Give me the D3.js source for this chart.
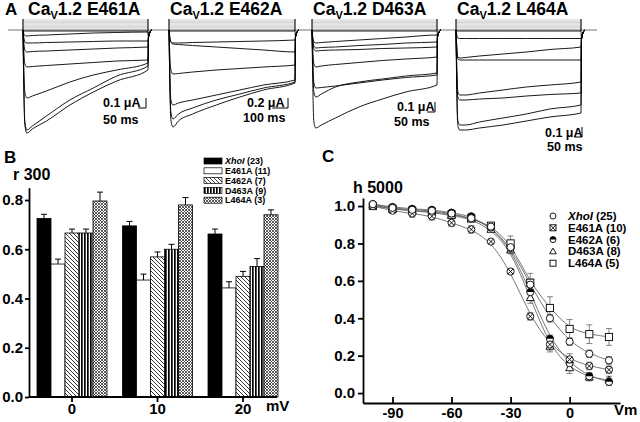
<!DOCTYPE html>
<html><head><meta charset="utf-8">
<script src="https://cdn.jsdelivr.net/npm/d3@7"></script>
<style>
body{margin:0;background:#fff}
svg{display:block;font-family:Arial,"Liberation Sans",sans-serif;font-weight:bold}
</style>
</head><body>
<svg id="c" width="640" height="422"></svg>
<script>
// ================= DATA =================
// ---- Panel A: current traces ----
const A_TITLES = ["E461A", "E462A", "D463A", "L464A"];
const A_TIME_MS = [0, 4, 12, 25, 60, 150, 300, 450, 600, 800, 803, 810, 825];
const A_PROTOCOL_MV = [-40, -30, -20, -10, 0, 10, 20, 30];
const A_SCALE_UA = [0.1, 0.2, 0.1, 0.1];
const A_SCALE_MS = [50, 100, 50, 50];
const A_SCALE_UA_LABELS = ["0.1 μA", "0.2 μA", "0.1 μA", "0.1 μA"];
const A_SCALE_MS_LABELS = ["50 ms", "100 ms", "50 ms", "50 ms"];
const A_TAIL_E461A = [-0.07, -0.03, 0];
const A_TAIL_E462A = [-0.14, -0.06, 0];
const A_TAIL_D463A = [-0.07, -0.03, 0];
const A_TAIL_L464A = [-0.09, -0.04, 0];
const A_TRACES_E461A = [
  [0, -0.005, -0.01, -0.01, -0.01, -0.01, -0.01, -0.01, -0.01, -0.01],
  [0, -0.03, -0.055, -0.06, -0.055, -0.05, -0.04, -0.03, -0.025, -0.02],
  [0, -0.06, -0.12, -0.13, -0.13, -0.125, -0.12, -0.115, -0.11, -0.11],
  [0, -0.10, -0.20, -0.22, -0.215, -0.21, -0.20, -0.19, -0.18, -0.17],
  [0, -0.17, -0.34, -0.37, -0.365, -0.355, -0.34, -0.325, -0.31, -0.30],
  [0, -0.30, -0.62, -0.68, -0.66, -0.61, -0.52, -0.45, -0.40, -0.33],
  [0, -0.45, -0.92, -1.00, -0.96, -0.86, -0.70, -0.58, -0.46, -0.36],
  [0, -0.47, -0.95, -1.03, -0.99, -0.91, -0.75, -0.62, -0.51, -0.40]
];
const A_TRACES_E462A = [
  [0, -0.01, -0.02, -0.02, -0.02, -0.02, -0.02, -0.02, -0.02, -0.02],
  [0, -0.12, -0.24, -0.26, -0.26, -0.25, -0.24, -0.23, -0.22, -0.20],
  [0, -0.12, -0.24, -0.28, -0.29, -0.31, -0.34, -0.37, -0.40, -0.44],
  [0, -0.40, -0.80, -0.88, -0.87, -0.84, -0.80, -0.77, -0.74, -0.70],
  [0, -0.68, -1.40, -1.50, -1.46, -1.40, -1.30, -1.20, -1.10, -1.00],
  [0, -0.80, -1.64, -1.78, -1.68, -1.56, -1.40, -1.28, -1.16, -1.04],
  [0, -0.88, -1.80, -1.94, -1.82, -1.68, -1.50, -1.34, -1.20, -1.06]
];
const A_TRACES_D463A = [
  [0, -0.005, -0.01, -0.01, -0.01, -0.01, -0.01, -0.01, -0.01, -0.01],
  [0, -0.06, -0.12, -0.13, -0.125, -0.115, -0.10, -0.085, -0.07, -0.05],
  [0, -0.08, -0.16, -0.18, -0.175, -0.17, -0.155, -0.145, -0.13, -0.12],
  [0, -0.10, -0.19, -0.21, -0.205, -0.20, -0.195, -0.185, -0.18, -0.17],
  [0, -0.17, -0.34, -0.37, -0.36, -0.345, -0.325, -0.305, -0.29, -0.27],
  [0, -0.26, -0.53, -0.58, -0.575, -0.56, -0.53, -0.50, -0.475, -0.45],
  [0, -0.30, -0.62, -0.67, -0.64, -0.57, -0.52, -0.49, -0.46, -0.43],
  [0, -0.45, -0.92, -0.98, -0.95, -0.88, -0.77, -0.69, -0.62, -0.55]
];
const A_TRACES_L464A = [
  [0, -0.005, -0.01, -0.01, -0.01, -0.01, -0.01, -0.01, -0.01, -0.01],
  [0, -0.04, -0.08, -0.085, -0.085, -0.085, -0.085, -0.085, -0.085, -0.085],
  [0, -0.14, -0.27, -0.28, -0.275, -0.26, -0.24, -0.22, -0.195, -0.17],
  [0, -0.15, -0.29, -0.30, -0.30, -0.30, -0.30, -0.30, -0.30, -0.30],
  [0, -0.32, -0.62, -0.65, -0.65, -0.63, -0.60, -0.57, -0.55, -0.52],
  [0, -0.35, -0.67, -0.70, -0.70, -0.69, -0.68, -0.66, -0.645, -0.63],
  [0, -0.47, -0.91, -0.95, -0.95, -0.92, -0.88, -0.84, -0.79, -0.75],
  [0, -0.50, -0.96, -1.00, -1.00, -0.98, -0.95, -0.91, -0.87, -0.83]
];

// ---- Panel B: r300 bars ----
const B_VOLTAGES = ["0", "10", "20"];
const B_NAMES = ["XhoI", "E461A", "E462A", "D463A", "L464A"];
const B_N = [23, 11, 7, 9, 3];
const B_XHOI = [0.725, 0.695, 0.662];
const B_E461A = [0.540, 0.475, 0.443];
const B_E462A = [0.666, 0.569, 0.490];
const B_D463A = [0.666, 0.600, 0.530];
const B_L464A = [0.796, 0.780, 0.740];
const B_XHOI_ERR = [0.017, 0.018, 0.020];
const B_E461A_ERR = [0.020, 0.024, 0.025];
const B_E462A_ERR = [0.016, 0.020, 0.020];
const B_D463A_ERR = [0.016, 0.020, 0.032];
const B_L464A_ERR = [0.036, 0.030, 0.020];
const B_Y_TICKS = [0.0, 0.2, 0.4, 0.6, 0.8];

// ---- Panel C: h5000 ----
const C_VM = [-100, -90, -80, -70, -60, -50, -40, -30, -20, -10, 0, 10, 20];
const C_NAMES = ["XhoI", "E461A", "E462A", "D463A", "L464A"];
const C_N = [25, 10, 6, 8, 5];
const C_XHOI  = [1.010, 0.990, 0.980, 0.975, 0.960, 0.935, 0.890, 0.780, 0.580, 0.400, 0.275, 0.210, 0.175];
const C_E461A = [1.000, 0.975, 0.960, 0.945, 0.910, 0.875, 0.810, 0.650, 0.410, 0.260, 0.180, 0.145, 0.125];
const C_E462A = [1.010, 0.995, 0.985, 0.980, 0.965, 0.945, 0.885, 0.775, 0.540, 0.290, 0.160, 0.090, 0.060];
const C_D463A = [1.005, 0.985, 0.975, 0.965, 0.950, 0.930, 0.875, 0.765, 0.510, 0.250, 0.135, 0.085, 0.070];
const C_L464A = [1.000, 0.985, 0.975, 0.970, 0.955, 0.935, 0.895, 0.800, 0.590, 0.455, 0.343, 0.315, 0.300];
const C_XHOI_ERR  = [0.01, 0.01, 0.01, 0.01, 0.01, 0.01, 0.01, 0.02, 0.03, 0.02, 0.02, 0.02, 0.02];
const C_E461A_ERR = [0.01, 0.01, 0.02, 0.02, 0.02, 0.02, 0.01, 0.01, 0.02, 0.03, 0.03, 0.02, 0.02];
const C_E462A_ERR = [0.01, 0.01, 0.01, 0.01, 0.01, 0.01, 0.01, 0.02, 0.03, 0.02, 0.02, 0.02, 0.02];
const C_D463A_ERR = [0.01, 0.01, 0.01, 0.01, 0.01, 0.01, 0.01, 0.02, 0.03, 0.03, 0.03, 0.02, 0.02];
const C_L464A_ERR = [0.01, 0.01, 0.01, 0.01, 0.01, 0.01, 0.01, 0.04, 0.05, 0.06, 0.05, 0.05, 0.045];
const C_X_TICKS = [-90, -60, -30, 0];
const C_Y_TICKS = [0.0, 0.2, 0.4, 0.6, 0.8, 1.0];

// ================= DRAWING =================
const FONT = "Arial, 'Liberation Sans', sans-serif";
const svg = d3.select("#c");
svg.append("rect").attr("width", 640).attr("height", 422).attr("fill", "#fff");
const defs = svg.append("defs");
function pattern(id, w, h, draw) {
  const p = defs.append("pattern").attr("id", id).attr("patternUnits", "userSpaceOnUse")
    .attr("width", w).attr("height", h);
  p.append("rect").attr("width", w).attr("height", h).attr("fill", "#fff");
  draw(p);
}
pattern("hatch", 4, 4, p => p.append("path").attr("d", "M-1,-1L5,5M-1,3L1,5M3,-1L5,1")
  .attr("stroke", "#222").attr("stroke-width", 0.9));
pattern("vstripe", 3, 3, p => p.append("rect").attr("width", 1.7).attr("height", 3).attr("fill", "#000"));
pattern("cross", 3, 3, p => p.append("path").attr("d", "M0,0L3,3M3,0L0,3")
  .attr("stroke", "#333").attr("stroke-width", 0.8));

// ---------- Panel A ----------
const A_TRACES = [A_TRACES_E461A, A_TRACES_E462A, A_TRACES_D463A, A_TRACES_L464A];
const A_TAILS = [A_TAIL_E461A, A_TAIL_E462A, A_TAIL_D463A, A_TAIL_L464A];
const A_LAYOUT = [
  {x0: 23, x1: 148, px: 100, title: 28, bar: [146, 108], ua: [103, 107], ms: [103, 124]},
  {x0: 169, x1: 295, px: 50, title: 170, bar: [288, 108], ua: [247, 107], ms: [243, 122]},
  {x0: 312, x1: 437, px: 100, title: 313, bar: [435, 112], ua: [397, 111], ms: [394, 126]},
  {x0: 456, x1: 581, px: 100, title: 457, bar: [582, 137], ua: [545, 137], ms: [547, 151]}
];
const BASE_Y = 30;

svg.append("text").attr("x", 5).attr("y", 15).attr("font-size", 17).text("A");
svg.append("line").attr("x1", 8).attr("x2", 597).attr("y1", BASE_Y).attr("y2", BASE_Y)
  .attr("stroke", "#777").attr("stroke-width", 1);

A_TITLES.forEach((name, i) => {
  const L = A_LAYOUT[i];
  const g = svg.append("g");
  const tx = g.append("text").attr("x", L.title).attr("y", 15).attr("font-size", 17.5);
  tx.append("tspan").text("Ca");
  tx.append("tspan").attr("font-size", 11).attr("dy", 4).text("V");
  tx.append("tspan").attr("dy", -4).text("1.2 " + name);

  const x = d3.scaleLinear().domain([0, 800]).range([L.x0, L.x1]);
  const y = d3.scaleLinear().domain([0, -100 / L.px]).range([BASE_Y, BASE_Y + 100]);
  const py = d3.scaleLinear().domain([-40, 30]).range([29, 20]);

  // voltage protocol
  g.selectAll("line.proto").data(A_PROTOCOL_MV).join("line").attr("class", "proto")
    .attr("x1", L.x0).attr("x2", L.x1).attr("y1", d => py(d)).attr("y2", d => py(d))
    .attr("stroke", "#bbb").attr("stroke-width", 0.6);
  [L.x0, L.x1].forEach(xx => g.append("line").attr("x1", xx).attr("x2", xx)
    .attr("y1", py(30) - 1).attr("y2", BASE_Y + 1).attr("stroke", "#000").attr("stroke-width", 1.1));

  const line = d3.line().x((d, k) => x(A_TIME_MS[k])).y(d => y(d)).curve(d3.curveMonotoneX);
  A_TRACES[i].forEach(tr => {
    g.append("path").attr("d", line(tr.concat(A_TAILS[i])))
      .attr("fill", "none").attr("stroke", "#000").attr("stroke-width", 0.9);
  });

  // scale bar
  const [bx, byy] = L.bar;
  const h = y(-A_SCALE_UA[i]) - y(0);
  const w = x(A_SCALE_MS[i]) - x(0);
  g.append("path").attr("d", `M${bx},${byy - h}V${byy}H${bx - w}`)
    .attr("fill", "none").attr("stroke", "#000").attr("stroke-width", 1);
  g.append("text").attr("x", L.ua[0]).attr("y", L.ua[1]).attr("font-size", 12.5).text(A_SCALE_UA_LABELS[i]);
  g.append("text").attr("x", L.ms[0]).attr("y", L.ms[1]).attr("font-size", 12.5).text(A_SCALE_MS_LABELS[i]);
});

// ---------- Panel B ----------
const B_VALUES = [B_XHOI, B_E461A, B_E462A, B_D463A, B_L464A];
const B_ERRS = [B_XHOI_ERR, B_E461A_ERR, B_E462A_ERR, B_D463A_ERR, B_L464A_ERR];
const B_FILLS = ["#000", "#fff", "url(#hatch)", "url(#vstripe)", "url(#cross)"];
const gB = svg.append("g");
gB.append("text").attr("x", 4).attr("y", 163).attr("font-size", 17).text("B");
gB.append("text").attr("x", 13).attr("y", 180).attr("font-size", 16).text("r 300");

const bX = d3.scaleBand().domain(B_VOLTAGES).range([29.25, 285.75]);
const bSub = d3.scaleBand().domain(B_NAMES).range([-35, 35]);
const bY = d3.scaleLinear().domain([0, 0.85]).range([397, 187.7]);

B_NAMES.forEach((name, s) => {
  B_VOLTAGES.forEach((v, j) => {
    const cx = bX(v) + bX.bandwidth() / 2 + bSub(name);
    const val = B_VALUES[s][j];
    gB.append("rect").attr("x", cx).attr("y", bY(val)).attr("width", bSub.bandwidth())
      .attr("height", bY(0) - bY(val)).attr("fill", B_FILLS[s]).attr("stroke", "#000").attr("stroke-width", 0.8);
    const mx = cx + bSub.bandwidth() / 2;
    const top = bY(val + B_ERRS[s][j]);
    gB.append("line").attr("x1", mx).attr("x2", mx).attr("y1", bY(val)).attr("y2", top)
      .attr("stroke", "#000").attr("stroke-width", 1);
    gB.append("line").attr("x1", mx - 3).attr("x2", mx + 3).attr("y1", top).attr("y2", top)
      .attr("stroke", "#000").attr("stroke-width", 1);
  });
});

const axBY = gB.append("g").attr("transform", "translate(29,0)")
  .call(d3.axisLeft(bY).tickValues(B_Y_TICKS).tickFormat(d3.format(".1f")).tickSize(4).tickSizeOuter(0).tickPadding(2));
const axBX = gB.append("g").attr("transform", "translate(0,397)")
  .call(d3.axisBottom(bX).tickSize(5).tickSizeOuter(0).tickPadding(4));
axBX.select(".domain").remove();
gB.append("line").attr("x1", 29).attr("x2", 277).attr("y1", 397).attr("y2", 397)
  .attr("stroke", "#000").attr("stroke-width", 1.8);
[axBY, axBX].forEach(a => {
  a.selectAll("text").attr("font-size", 15).attr("font-weight", "bold").attr("font-family", FONT).attr("fill", "#000");
  a.selectAll("line,path").attr("stroke", "#000").attr("stroke-width", 1.8);
});
axBX.selectAll("text").attr("dy", null).attr("y", 17);
gB.append("text").attr("x", 266).attr("y", 411).attr("font-size", 15).text("mV");

// legend B
const bLeg = gB.append("g");
B_NAMES.forEach((name, s) => {
  const yy = 161 + s * 9.8;
  bLeg.append("rect").attr("x", 204).attr("y", yy - 3).attr("width", 18).attr("height", 6)
    .attr("fill", B_FILLS[s]).attr("stroke", "#000").attr("stroke-width", 0.7);
  const t = bLeg.append("text").attr("x", 225).attr("y", yy + 3.2).attr("font-size", 9);
  t.append("tspan").attr("font-style", s === 0 ? "italic" : "normal").text(name);
  t.append("tspan").text(" (" + B_N[s] + ")");
});

// ---------- Panel C ----------
const C_VALUES = [C_XHOI, C_E461A, C_E462A, C_D463A, C_L464A];
const C_ERRS = [C_XHOI_ERR, C_E461A_ERR, C_E462A_ERR, C_D463A_ERR, C_L464A_ERR];
const C_MARKS = ["circle", "xcircle", "half", "tri", "square"];
const gC = svg.append("g");
gC.append("text").attr("x", 322).attr("y", 162).attr("font-size", 17).text("C");
gC.append("text").attr("x", 353).attr("y", 193).attr("font-size", 16).text("h 5000");

const cX = d3.scaleLinear().domain([-105, 25.6]).range([363, 620]);
const cY = d3.scaleLinear().domain([-0.053, 1.043]).range([403, 198]);

function marker(g, kind, cx, cy, s) {
  const st = {fill: "#fff", stroke: "#000", "stroke-width": 0.9};
  const app = (tag) => { const e = g.append(tag); Object.entries(st).forEach(([k, v]) => e.attr(k, v)); return e; };
  if (kind === "circle") app("circle").attr("cx", cx).attr("cy", cy).attr("r", s);
  else if (kind === "xcircle") {
    app("circle").attr("cx", cx).attr("cy", cy).attr("r", s);
    const d = s * 0.7;
    g.append("path").attr("d", `M${cx - d},${cy - d}L${cx + d},${cy + d}M${cx + d},${cy - d}L${cx - d},${cy + d}`)
      .attr("stroke", "#000").attr("stroke-width", 0.9);
  } else if (kind === "xsquare") {
    app("rect").attr("x", cx - s).attr("y", cy - s).attr("width", 2 * s).attr("height", 2 * s);
    g.append("path").attr("d", `M${cx - s},${cy - s}L${cx + s},${cy + s}M${cx + s},${cy - s}L${cx - s},${cy + s}`)
      .attr("stroke", "#000").attr("stroke-width", 0.9);
  } else if (kind === "half") {
    app("circle").attr("cx", cx).attr("cy", cy).attr("r", s);
    g.append("path").attr("d", `M${cx - s},${cy}A${s},${s} 0 0 1 ${cx + s},${cy}Z`).attr("fill", "#000");
  } else if (kind === "tri") {
    app("path").attr("d", `M${cx},${cy - s * 1.1}L${cx + s * 1.1},${cy + s * 0.8}L${cx - s * 1.1},${cy + s * 0.8}Z`);
  } else if (kind === "square") {
    app("rect").attr("x", cx - s).attr("y", cy - s).attr("width", 2 * s).attr("height", 2 * s);
  }
}

// fitted curves (smoothed through the points)
const cLine = d3.line().x((d, k) => cX(C_VM[k])).y(d => cY(d)).curve(d3.curveBasis);
C_VALUES.forEach(vals => gC.append("path").attr("d", cLine(vals)).attr("fill", "none")
  .attr("stroke", "#555").attr("stroke-width", 0.8));
// error bars
C_VALUES.forEach((vals, s) => vals.forEach((v, k) => {
  const e = C_ERRS[s][k];
  if (e < 0.015) return;
  const xx = cX(C_VM[k]);
  gC.append("path").attr("d", `M${xx},${cY(v - e)}V${cY(v + e)}M${xx - 3},${cY(v + e)}H${xx + 3}M${xx - 3},${cY(v - e)}H${xx + 3}`)
    .attr("stroke", "#666").attr("stroke-width", 0.8).attr("fill", "none");
}));
// markers
[4, 3, 2, 1, 0].forEach(s => C_VALUES[s].forEach((v, k) => marker(gC, C_MARKS[s], cX(C_VM[k]), cY(v), 3.6)));

const axCY = gC.append("g").attr("transform", "translate(363,0)")
  .call(d3.axisLeft(cY).tickValues(C_Y_TICKS).tickFormat(d3.format(".1f")).tickSize(5).tickSizeOuter(0).tickPadding(3));
const axCX = gC.append("g").attr("transform", "translate(0,403)")
  .call(d3.axisBottom(cX).tickValues(C_X_TICKS).tickFormat(d => String(d)).tickSize(-6).tickSizeOuter(0).tickPadding(3));
[axCY, axCX].forEach(a => {
  a.selectAll("text").attr("font-size", 15).attr("font-weight", "bold").attr("font-family", FONT).attr("fill", "#000");
  a.selectAll("line,path").attr("stroke", "#000").attr("stroke-width", 1.8);
});
axCX.selectAll("text").attr("dy", null).attr("y", 15).attr("font-size", 14.5);
gC.append("text").attr("x", 614).attr("y", 415).attr("font-size", 15).text("Vm");

// legend C
const C_LEG_MARKS = ["circle", "xsquare", "half", "tri", "square"];
C_NAMES.forEach((name, s) => {
  const yy = 216 + s * 11.8;
  marker(gC, C_LEG_MARKS[s], 553, yy, 3);
  const t = gC.append("text").attr("x", 568).attr("y", yy + 4).attr("font-size", 11.5);
  t.append("tspan").attr("font-style", s === 0 ? "italic" : "normal").text(name);
  t.append("tspan").text(" (" + C_N[s] + ")");
});
</script>
</body></html>
